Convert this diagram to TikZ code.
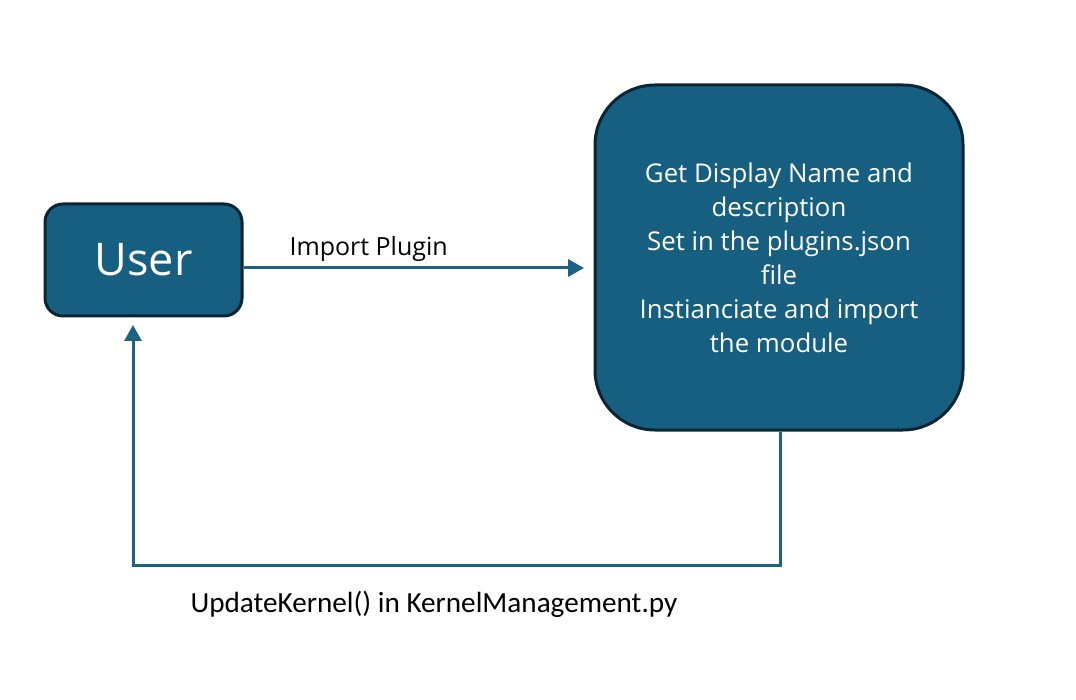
\documentclass[tikz,border=0pt]{standalone}
\usepackage{fontspec}
\setmainfont{Open Sans}
\newfontfamily\narrowfont{Carlito}
\usetikzlibrary{arrows.meta}
\definecolor{boxfill}{HTML}{175F80}
\definecolor{boxedge}{HTML}{0B2535}
\definecolor{linecol}{HTML}{1B6284}
\begin{document}
\begin{tikzpicture}[x=1pt,y=-1pt,
  procbox/.style={draw=boxedge, line width=3pt, fill=boxfill, text=white, align=center, inner sep=0pt},
  conn/.style={draw=linecol, line width=3pt},
  tip/.style={-{Triangle[length=16pt,width=17pt]}}]
\useasboundingbox (0,0) rectangle (1076,700);
\node[procbox, rounded corners=18pt, minimum width=197pt, minimum height=112pt, font=\fontsize{45}{52}\selectfont] (user) at (143.5,260) {User};
\node[procbox, rounded corners=60pt, minimum width=368pt, minimum height=345pt, font=\fontsize{25.8}{34}\selectfont] (proc) at (779,257.5) {Get Display Name and\\description\\Set in the plugins.json\\file\\Instianciate and import\\the module};
\coordinate (arrowend) at (584,268);
\draw[conn, tip] (user.east |- 0,268) -- (arrowend);
\node[font=\fontsize{25}{30}\selectfont, anchor=west] (importlbl) at (286,249) {Import Plugin};
\coordinate (c1) at (780,565);
\coordinate (c2) at (133,565);
\coordinate (c3) at (133,325);
\draw[conn, tip] (proc.south -| 780,0) -- (c1) -- (c2) -- (c3);
\node[font=\narrowfont\fontsize{29.2}{34}\selectfont, anchor=west] (updlbl) at (187,604) {UpdateKernel() in KernelManagement.py};
\end{tikzpicture}
\end{document}
